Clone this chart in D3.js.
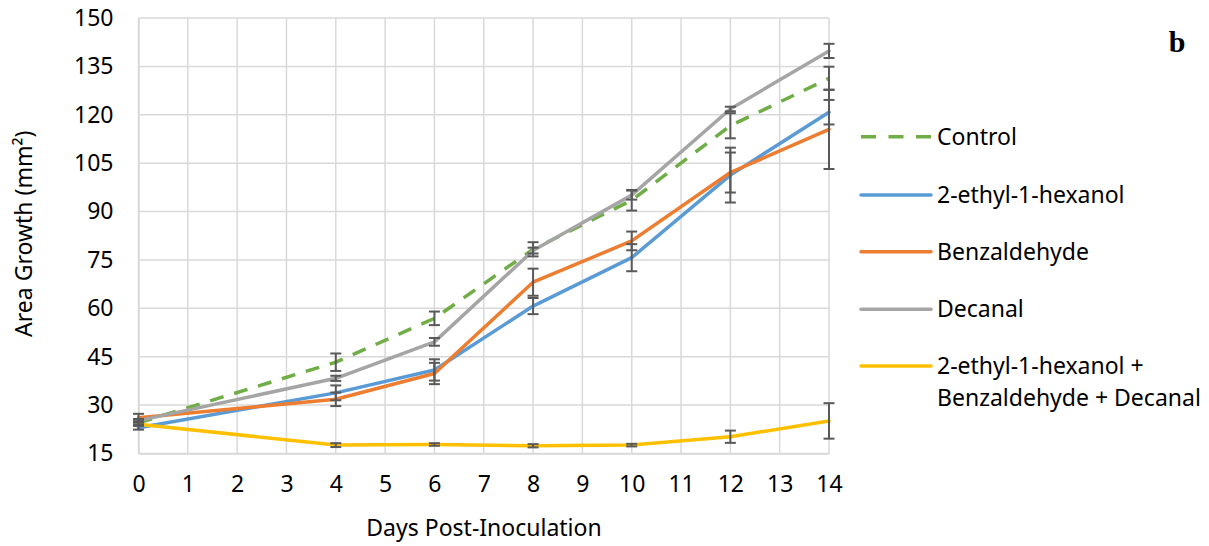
<!DOCTYPE html>
<html>
<head>
<meta charset="utf-8">
<script src="https://cdn.jsdelivr.net/npm/d3@7"></script>
<style>
  html, body { margin: 0; padding: 0; background: #ffffff; }
  svg { display: block; }
  text { font-family: "Noto Sans", "Open Sans", sans-serif; fill: #000; }
</style>
</head>
<body>
<svg id="chart" width="1209" height="546"></svg>
<script>
// Sampling days and tick values
const days = [0, 4, 6, 8, 10, 12, 14];
const xTicks = d3.range(0, 15);
const yTicks = [15, 30, 45, 60, 75, 90, 105, 120, 135, 150];

// Mean area growth (mm²) per treatment
const control      = [24.5, 43.3, 56.9, 78.3, 93.5, 116.6, 131.3];
const ethylHexanol = [23.0, 33.8, 40.9, 60.7, 75.7, 101.3, 120.8];
const benzaldehyde = [26.1, 31.8, 39.8, 68.1, 80.9, 102.1, 115.5];
const decanal      = [25.2, 38.3, 49.6, 77.9, 95.1, 121.8, 139.8];
const mixture      = [24.1, 17.6, 17.8, 17.4, 17.6, 20.2, 25.1];

// Error bar half-widths (mm²)
const controlErr      = [0.5, 2.7, 2.1, 2.2, 3.2, 3.9, 3.6];
const ethylHexanolErr = [0.6, 2.3, 3.3, 2.5, 4.2, 8.5, 3.8];
const benzaldehydeErr = [1.2, 2.1, 3.3, 4.2, 2.9, 6.2, 12.3];
const decanalErr      = [0.5, 0.8, 1.2, 0.9, 1.4, 0.7, 2.2];
const mixtureErr      = [0.5, 0.6, 0.4, 0.5, 0.4, 1.9, 5.5];

const seriesNames = ["Control", "2-ethyl-1-hexanol", "Benzaldehyde", "Decanal",
                     "2-ethyl-1-hexanol + Benzaldehyde + Decanal"];
const seriesColors = ["#70AD47", "#5B9BD5", "#ED7D31", "#A5A5A5", "#FFC000"];

const series = [
  { name: seriesNames[0], values: control,      err: controlErr,      color: seriesColors[0], dashed: true },
  { name: seriesNames[1], values: ethylHexanol, err: ethylHexanolErr, color: seriesColors[1] },
  { name: seriesNames[2], values: benzaldehyde, err: benzaldehydeErr, color: seriesColors[2] },
  { name: seriesNames[3], values: decanal,      err: decanalErr,      color: seriesColors[3] },
  { name: seriesNames[4], values: mixture,      err: mixtureErr,      color: seriesColors[4] }
];

const svg = d3.select("#chart");
const plot = { left: 138.5, right: 829, top: 18, bottom: 453.5 };

const x = d3.scaleLinear().domain([0, 14]).range([plot.left, plot.right]);
const y = d3.scaleLinear().domain([15, 150]).range([plot.bottom, plot.top]);

// Gridlines
const grid = svg.append("g");
grid.selectAll("line.h").data(yTicks).join("line")
  .attr("x1", plot.left).attr("x2", plot.right)
  .attr("y1", d => y(d)).attr("y2", d => y(d))
  .attr("stroke", "#d9d9d9").attr("stroke-width", 1.5);
grid.selectAll("line.v").data(xTicks).join("line")
  .attr("y1", plot.top).attr("y2", plot.bottom)
  .attr("x1", d => x(d)).attr("x2", d => x(d))
  .attr("stroke", "#d9d9d9").attr("stroke-width", 1.5);

// Axes (labels only, Excel-like)
const yAxis = svg.append("g")
  .attr("transform", `translate(${plot.left},0)`)
  .call(d3.axisLeft(y).tickValues(yTicks).tickSize(0).tickPadding(25));
yAxis.select(".domain").attr("stroke", "#d9d9d9").attr("stroke-width", 1.5);
yAxis.selectAll("text").style("font-size", "23px")
  .style("font-family", '"Noto Sans", sans-serif').attr("fill", "#000");

const xAxis = svg.append("g")
  .attr("transform", `translate(0,${plot.bottom})`)
  .call(d3.axisBottom(x).tickValues(xTicks).tickFormat(d3.format("d")).tickSize(0).tickPadding(22));
xAxis.select(".domain").attr("stroke", "#d9d9d9").attr("stroke-width", 1.5);
xAxis.selectAll("text").style("font-size", "23px")
  .style("font-family", '"Noto Sans", sans-serif').attr("fill", "#000");

// Axis titles
svg.append("text")
  .attr("x", 484).attr("y", 536)
  .attr("text-anchor", "middle").style("font-size", "23px")
  .text("Days Post-Inoculation");

svg.append("text")
  .attr("transform", `translate(32,${(plot.top + plot.bottom) / 2 - 2}) rotate(-90)`)
  .attr("text-anchor", "middle").style("font-size", "23px")
  .text("Area Growth (mm²)");

// Series lines
const line = d3.line().x((d, i) => x(days[i])).y(d => y(d));
const lines = svg.append("g");
series.forEach(s => {
  lines.append("path")
    .datum(s.values)
    .attr("d", line)
    .attr("fill", "none")
    .attr("stroke", s.color)
    .attr("stroke-width", 3.5)
    .attr("stroke-linejoin", "round")
    .attr("stroke-linecap", s.dashed ? "butt" : "round")
    .attr("stroke-dasharray", s.dashed ? "14,11" : null);
});

// Error bars
const bars = svg.append("g").attr("stroke", "#595959").attr("stroke-width", 2);
series.forEach(s => {
  s.values.forEach((v, i) => {
    const cx = x(days[i]);
    const y0 = y(v - s.err[i]), y1 = y(v + s.err[i]);
    bars.append("line").attr("x1", cx).attr("x2", cx).attr("y1", y0).attr("y2", y1);
    bars.append("line").attr("x1", cx - 5.5).attr("x2", cx + 5.5).attr("y1", y0).attr("y2", y0);
    bars.append("line").attr("x1", cx - 5.5).attr("x2", cx + 5.5).attr("y1", y1).attr("y2", y1);
  });
});

// Legend
const legendRows = [136.7, 195, 251.7, 309.3, 366];
const legend = svg.append("g");
series.forEach((s, i) => {
  const ry = legendRows[i];
  legend.append("line")
    .attr("x1", 861).attr("x2", 931).attr("y1", ry).attr("y2", ry)
    .attr("stroke", s.color).attr("stroke-width", 3.5)
    .attr("stroke-linecap", s.dashed ? "butt" : "round")
    .attr("stroke-dasharray", s.dashed ? "15,12.5" : null);
  const words = s.name.includes(" + ")
    ? ["2-ethyl-1-hexanol +", "Benzaldehyde + Decanal"]
    : [s.name];
  const t = legend.append("text")
    .attr("x", 937).attr("y", ry)
    .style("font-size", "23px");
  words.forEach((w, k) => {
    t.append("tspan").attr("x", 937).attr("dy", k === 0 ? "0.35em" : "32px").text(w);
  });
});

// Panel letter
svg.append("text")
  .attr("x", 1177).attr("y", 52).attr("text-anchor", "middle")
  .style("font-family", '"Liberation Serif", "DejaVu Serif", serif')
  .style("font-weight", "bold").style("font-size", "30px")
  .text("b");
</script>
</body>
</html>
